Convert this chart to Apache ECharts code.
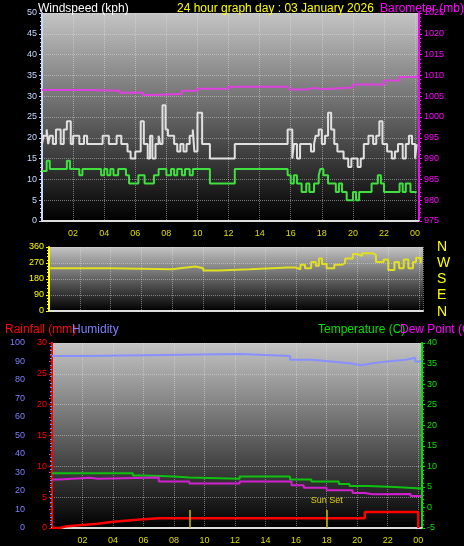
<!DOCTYPE html>
<html>
<head>
<meta charset="utf-8">
<script src="https://cdn.jsdelivr.net/npm/echarts@6/dist/echarts.min.js"></script>
<style>
  html, body { margin: 0; padding: 0; background: #000; }
  #chart { width: 464px; height: 546px; }
</style>
</head>
<body>
<div id="chart"></div>
<script>
// hours (0..24) and values, step data
const gustHours = [0, 0.1, 0.3, 0.4, 0.5, 0.7, 0.9, 1.2, 1.4, 1.6, 1.85, 2.0, 2.4, 2.7, 2.9, 3.9, 4.3, 4.8, 5.1, 5.5, 5.7, 6.0, 6.35, 6.55, 6.8, 6.95, 7.1, 7.3, 7.5, 7.6, 7.75, 7.95, 8.1, 8.5, 8.7, 8.9, 9.1, 9.3, 9.5, 9.7, 9.8, 10.0, 10.3, 10.8, 12.4, 15.8, 16.1, 16.2, 16.4, 16.6, 16.8, 17.3, 17.5, 17.6, 17.8, 18.0, 18.2, 18.4, 18.6, 18.8, 19.0, 19.4, 19.7, 19.9, 20.3, 20.5, 20.7, 21.0, 21.3, 21.5, 21.7, 21.9, 22.2, 22.5, 22.7, 22.9, 23.2, 23.4, 23.6, 23.8, 24.0, 24.1]
const gustValues = [18.5, 20.5, 22, 18.5, 20.5, 18.5, 22, 18.5, 22, 24, 18.5, 20.5, 18.5, 20.5, 18.5, 20.5, 18.5, 20.5, 18.5, 16.7, 15, 16.7, 24, 18.5, 15, 20.5, 15, 18.5, 20.5, 18.5, 27.8, 22, 20.5, 18.5, 16.7, 18.5, 16.7, 18.5, 20.5, 22, 16.7, 26, 18.5, 15, 18.5, 22, 15, 18.5, 15, 18.5, 18.5, 16.7, 18.5, 20.5, 22, 18.5, 20.5, 26, 22, 18.5, 16.7, 15, 13, 15, 13, 15, 18.5, 20.5, 18.5, 20.5, 24, 18.5, 16.7, 15, 16.7, 18.5, 15, 18.5, 20.5, 18.5, 15, 18.5]
const avgHours = [0, 0.3, 0.5, 1.6, 1.8, 2.4, 2.6, 3.8, 4.0, 4.2, 4.4, 4.6, 4.9, 5.4, 5.6, 6.2, 6.6, 7.2, 7.5, 8.0, 8.3, 8.5, 8.7, 9.0, 9.2, 9.5, 9.7, 10.8, 12.4, 15.8, 16.0, 16.2, 16.4, 16.7, 17.0, 17.2, 17.5, 17.8, 17.9, 18.1, 18.4, 18.9, 19.1, 19.3, 19.6, 20.0, 20.2, 20.4, 21.2, 21.6, 21.8, 22.0, 23.0, 23.2, 23.4, 23.7, 24.1]
const avgValues = [12, 14.5, 12.5, 14.5, 12.5, 11, 12.5, 11, 12.5, 11, 12.5, 11, 12.5, 11, 9, 11, 9, 11, 12.5, 11, 12.5, 11, 12.5, 11, 12.5, 11, 12.5, 9, 12.5, 11, 9, 11, 9, 7, 9, 7, 9, 11, 12.5, 11, 9, 7, 9, 7, 5, 7, 5, 7, 9, 11, 9, 7, 9, 7, 9, 7, 7]
const baroHours = [0, 3, 5, 6.5, 7, 9, 10, 12, 15.8, 15.9, 17, 17.5, 18, 20, 22, 23, 24.1]
const baroValues = [1006.5, 1006.3, 1005.8, 1005.3, 1005.5, 1006.3, 1006.8, 1007.3, 1007.5, 1006.6, 1007, 1006.7, 1007.1, 1007.8, 1008.8, 1009.6, 1010]
const dirHours = [0, 4, 8, 8.5, 9.5, 10, 11, 13, 15.5, 16, 16.3, 16.6, 17, 17.3, 17.5, 17.7, 18, 18.5, 19, 19.2, 19.7, 20, 20.3, 21, 21.2, 21.7, 22, 22.4, 22.7, 23, 23.3, 23.6, 23.8, 24.1]
const dirValues = [240, 235, 240, 250, 240, 228, 235, 245, 245, 235, 260, 240, 275, 255, 295, 265, 240, 260, 270, 295, 320, 310, 325, 315, 275, 290, 230, 275, 240, 290, 240, 275, 300, 270]
const humHours = [0, 2.2, 12.3, 15.6, 16.2, 17, 18.3, 19.5, 20.3, 21, 22, 23.2, 23.8, 24.2]
const humValues = [93, 94, 93, 91, 91, 90, 89, 88, 89, 90, 91, 92, 90, 90]
const tempHours = [0, 5.3, 6, 8, 9, 12.3, 15.6, 17, 18.8, 19.5, 20.7, 22.5, 24.2]
const tempValues = [8.3, 7.8, 7.5, 7.3, 7, 7.5, 6.8, 6.3, 5.7, 5.2, 5, 4.6, 4.4]
const dewHours = [0, 0.5, 2.5, 3, 7, 9, 12.3, 15.7, 16.5, 18, 19.7, 20.5, 21, 23.5, 24.2]
const dewValues = [6.8, 7.2, 7, 7.3, 6.3, 5.8, 6.3, 5.4, 4.8, 4.2, 3.5, 3.2, 3.3, 2.8, 2.8]
const rainHours = [0, 0.5, 1, 2, 3, 4, 5, 6, 7, 20, 20.5, 24, 24.01]
const rainValues = [0, 0.3, 0.5, 0.7, 1.0, 1.2, 1.4, 1.6, 1.6, 1.6, 2.6, 2.6, 0]
const sunHours = [9, 18]
const compass = ['N', 'W', 'S', 'E', 'N']

const zip = (h, v) => h.map((x, i) => [x, v[i]])

const plotBg = {
  type: 'linear', x: 0, y: 0, x2: 0, y2: 1,
  colorStops: [{ offset: 0, color: '#c4c4c4' }, { offset: 1, color: '#000000' }]
}
const gridLine = { show: true, lineStyle: { color: 'rgba(230,230,230,0.45)', type: 'dotted' } }
const hourLabel = v => (v === 0 ? '' : String(v % 24).padStart(2, '0'))

function hourAxis(gridIndex, showLabel) {
  return {
    type: 'value', gridIndex, min: 0, max: 24.25, interval: 2,
    axisLine: { lineStyle: { color: '#ddd', width: 2 } },
    axisTick: { show: false },
    axisLabel: { show: showLabel, color: '#dddd00', fontSize: 9, formatter: hourLabel, showMaxLabel: false },
    splitLine: gridLine
  }
}
function yAxis(gridIndex, min, max, interval, color, pos, offset, grid) {
  return {
    type: 'value', gridIndex, min, max, interval, position: pos, offset: offset || 0,
    axisLine: { show: true, lineStyle: { color, width: 2 } },
    axisTick: { show: true, length: 3, lineStyle: { color } },
    minorTick: { show: true, length: 2, lineStyle: { color } },
    axisLabel: { color, fontSize: 9, margin: 5, formatter: v => String(v) },
    splitLine: grid ? gridLine : { show: false }
  }
}
function stepLine(name, data, color, xi, yi, width) {
  return {
    name, type: 'line', step: 'end', xAxisIndex: xi, yAxisIndex: yi, data,
    showSymbol: false, lineStyle: { color, width: width || 2 }, itemStyle: { color }
  }
}

const chart = echarts.init(document.getElementById('chart'))
chart.setOption({
  backgroundColor: '#000',
  animation: false,
  textStyle: { fontFamily: 'Liberation Sans, Arial, sans-serif' },
  title: [
    { text: 'Windspeed (kph)', left: 33, top: -2, textStyle: { color: '#fff', fontSize: 12, fontWeight: 'normal' } },
    { text: '24 hour graph day : 03 January 2026', left: 172, top: -2, textStyle: { color: '#ffff00', fontSize: 12, fontWeight: 'normal' } },
    { text: 'Barometer (mb)', left: 375, top: -2, textStyle: { color: '#ff00ff', fontSize: 12, fontWeight: 'normal' } },
    { text: 'Rainfall (mm)', left: 0, top: 319, textStyle: { color: '#ff0000', fontSize: 12, fontWeight: 'normal' } },
    { text: 'Humidity', left: 67, top: 319, textStyle: { color: '#7f7fff', fontSize: 12, fontWeight: 'normal' } },
    { text: 'Temperature (C)', left: 313, top: 319, textStyle: { color: '#00e000', fontSize: 12, fontWeight: 'normal' } },
    { text: 'Dew Point (C)', left: 395, top: 319, textStyle: { color: '#ff00ff', fontSize: 12, fontWeight: 'normal' } }
  ],
  graphic: compass.map((c, i) => ({
    type: 'text', left: 437, top: 240 + i * 16.2,
    style: { text: c, fill: '#ffff00', fontSize: 14, fontFamily: 'Liberation Sans, Arial' }
  })),
  grid: [
    { left: 42, right: 45, top: 13, height: 208, show: true, backgroundColor: plotBg, borderWidth: 0 },
    { left: 49, right: 41, top: 247, height: 64, show: true, backgroundColor: plotBg, borderWidth: 0 },
    { left: 52, right: 42, top: 343, height: 185, show: true, backgroundColor: plotBg, borderWidth: 0 }
  ],
  xAxis: [hourAxis(0, true), hourAxis(1, false), hourAxis(2, true)],
  yAxis: [
    yAxis(0, 0, 50, 5, '#c8d8ff', 'left', 0, true),
    yAxis(0, 975, 1025, 5, '#ff00ff', 'right', 0, false),
    yAxis(1, 0, 360, 90, '#ffff00', 'left', 0, true),
    yAxis(2, 0, 100, 10, '#7f7fff', 'left', 22, false),
    yAxis(2, 0, 30, 5, '#ff0000', 'left', 0, true),
    yAxis(2, -5, 40, 5, '#00e000', 'right', 0, false)
  ],
  series: [
    stepLine('Barometer', zip(baroHours, baroValues), '#e040e0', 0, 1),
    stepLine('Gust', zip(gustHours, gustValues), '#e0e0e0', 0, 0),
    stepLine('Average', zip(avgHours, avgValues), '#40e040', 0, 0),
    stepLine('Direction', zip(dirHours, dirValues), '#e0e020', 1, 2),
    stepLine('Humidity', zip(humHours, humValues), '#8890ff', 2, 3),
    stepLine('Temperature', zip(tempHours, tempValues), '#10c010', 2, 5),
    stepLine('Dew Point', zip(dewHours, dewValues), '#d020d0', 2, 5),
    Object.assign(stepLine('Rainfall', zip(rainHours, rainValues), '#ff0000', 2, 4, 2.5), {
      markLine: {
        symbol: 'none', silent: true,
        lineStyle: { color: '#c8c000', type: 'solid', width: 1.5 },
        data: sunHours.map((h, i) => [
          { coord: [h, 0], label: { show: i === 1, formatter: 'Sun Set', position: 'end', color: '#e0d000', fontSize: 9 } },
          { coord: [h, 2.9] }
        ])
      }
    })
  ]
})
</script>
</body>
</html>
